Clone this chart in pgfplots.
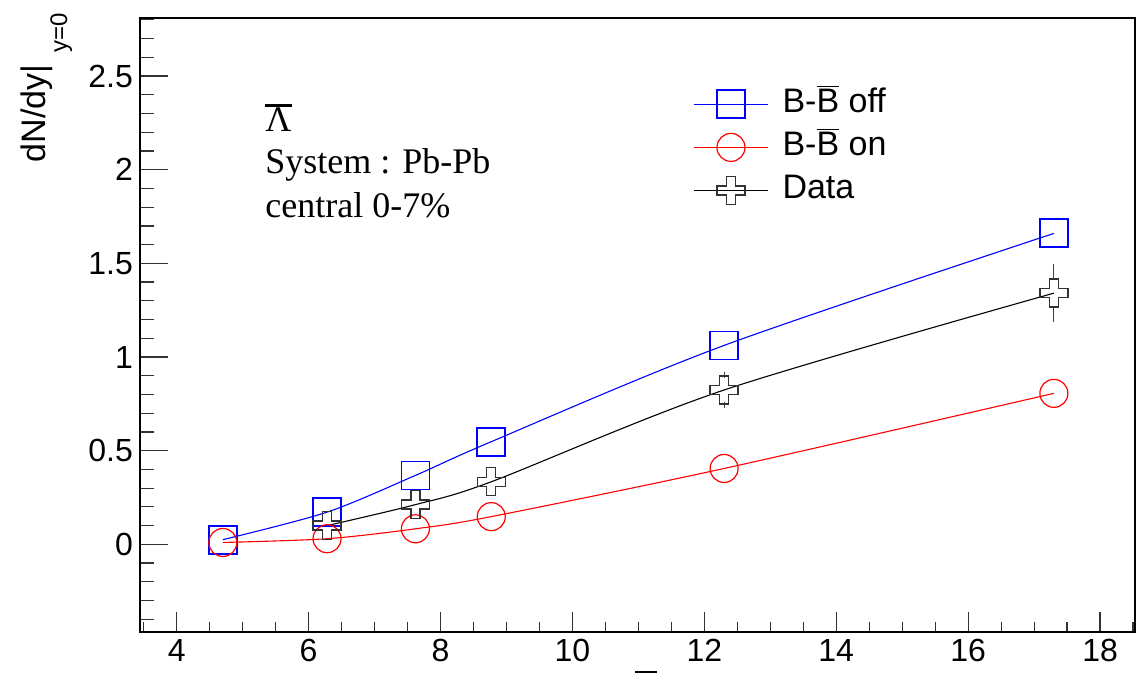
\documentclass[border=0pt]{standalone}
\usepackage{fontspec}
\setmainfont{Liberation Sans}
\newfontfamily\timesf{Liberation Serif}
\usepackage{pgfplots}
\pgfplotsset{compat=1.18}

\definecolor{rootblue}{RGB}{0,0,255}

% ROOT style open cross (marker 28)
\pgfdeclareplotmark{ocross}{%
  \pgfpathmoveto{\pgfqpoint{-0.32\pgfplotmarksize}{\pgfplotmarksize}}%
  \pgfpathlineto{\pgfqpoint{0.32\pgfplotmarksize}{\pgfplotmarksize}}%
  \pgfpathlineto{\pgfqpoint{0.32\pgfplotmarksize}{0.32\pgfplotmarksize}}%
  \pgfpathlineto{\pgfqpoint{\pgfplotmarksize}{0.32\pgfplotmarksize}}%
  \pgfpathlineto{\pgfqpoint{\pgfplotmarksize}{-0.32\pgfplotmarksize}}%
  \pgfpathlineto{\pgfqpoint{0.32\pgfplotmarksize}{-0.32\pgfplotmarksize}}%
  \pgfpathlineto{\pgfqpoint{0.32\pgfplotmarksize}{-\pgfplotmarksize}}%
  \pgfpathlineto{\pgfqpoint{-0.32\pgfplotmarksize}{-\pgfplotmarksize}}%
  \pgfpathlineto{\pgfqpoint{-0.32\pgfplotmarksize}{-0.32\pgfplotmarksize}}%
  \pgfpathlineto{\pgfqpoint{-\pgfplotmarksize}{-0.32\pgfplotmarksize}}%
  \pgfpathlineto{\pgfqpoint{-\pgfplotmarksize}{0.32\pgfplotmarksize}}%
  \pgfpathlineto{\pgfqpoint{-0.32\pgfplotmarksize}{0.32\pgfplotmarksize}}%
  \pgfpathclose
  \pgfusepathqstroke}

% bar over a letter, thicker than \overline
\newcommand\barred[2][1.3pt]{{\setbox0\hbox{#2}%
  \rlap{\rule[\dimexpr\ht0+0.7pt\relax]{\wd0}{#1}}\box0}}

\pgfplotsset{
  rootaxis/.style={
    scale only axis, width=497.5pt, height=307pt,
    at={(70pt,21pt)}, anchor=south west,
    xmin=3.444, xmax=18.53, ymin=-0.468, ymax=2.81,
    axis line style={line width=0.7pt, black},
    tick align=inside, tick pos=left,
    tick style={line width=0.6pt, black!80},
    ticklabel style={font=\fontsize{16}{18}\selectfont},
    /pgf/number format/assume math mode=true,
  },
  errbar/.style={forget plot, draw=none, no markers,
    error bars/.cd, y explicit, y dir=#1,
    error bar style={draw=black!75, line width=0.5pt},
    error mark options={draw=black!75, mark size=1.4pt, line width=0.5pt}},
}

\begin{document}
\begin{tikzpicture}
% x ticks (shorter, as ROOT scales them with pad height)
\begin{axis}[rootaxis,
  xtick={4,6,...,18}, minor xtick={3.5,4,...,18.5},
  ytick=\empty,
  major tick length=10pt, minor tick length=5pt,
]
\end{axis}

\begin{axis}[rootaxis,
  xtick=\empty,
  ytick={0,0.5,1,1.5,2,2.5}, minor ytick={-0.4,-0.3,...,2.8},
  major tick length=14pt, minor tick length=7pt,
  legend style={at={(0.5558,0.886)}, anchor=north west, draw=none, fill=none,
    font=\fontsize{17}{19}\selectfont, inner sep=0pt, row sep=5.5pt,
    nodes={inner sep=0pt, text height=12pt, text depth=4pt},
    /tikz/every odd column/.append style={column sep=7pt}},
  legend cell align=left,
  legend image code/.code={\draw[mark repeat=2,mark phase=2,#1]
    plot coordinates {(0pt,0pt)(18.5pt,0pt)(37pt,0pt)};},
]
\addplot[rootblue, line width=0.55pt, smooth, mark=square, mark size=7pt,
  mark options={solid, draw=rootblue, line width=0.9pt}] coordinates {
  (4.70,0.025) (6.28,0.172) (7.62,0.368) (8.77,0.548) (12.30,1.062) (17.30,1.660)
};
\addlegendentry{B-$\overline{\mbox{B}}$ off}

\addplot[red, line width=0.55pt, smooth, mark=o, mark size=7pt,
  mark options={solid, draw=red, line width=0.6pt}] coordinates {
  (4.70,0.010) (6.28,0.030) (7.62,0.083) (8.77,0.148) (12.30,0.405) (17.30,0.806)
};
\addlegendentry{B-$\overline{\mbox{B}}$ on}

\addplot[black, line width=0.55pt, smooth, mark=ocross, mark size=7pt,
  mark options={solid, draw=black!80, line width=0.65pt}] coordinates {
  (6.28,0.100) (7.62,0.212) (8.77,0.334) (12.30,0.824) (17.30,1.341)
};
\addlegendentry{Data}

% error bars, drawn outside the cross markers as ROOT does
% upper parts: from the marker top edge upwards
\addplot[errbar=plus] table[x=x, y=y, y error=e] {
  x     y     e
  17.30 1.419 0.062
  12.30 0.899 0.005
};
% lower parts: from the marker bottom edge downwards
\addplot[errbar=minus] table[x=x, y=y, y error=e] {
  x     y     e
  17.30 1.264 0.060
  12.30 0.749 0.005
};
\end{axis}

% y title
\node[rotate=90, anchor=base east, inner sep=0pt,
  font=\fontsize{17}{20}\selectfont] at (22.5pt,330.5pt)
  {dN/dy|\hspace{6pt}\raisebox{-11pt}{\fontsize{12}{14}\selectfont y=0}};

% annotation text
\node[anchor=base west, inner sep=0pt, font=\timesf\fontsize{18}{21}\selectfont]
  at (132.5pt,271pt) {\barred{Λ}};
\node[anchor=base west, inner sep=0pt, font=\timesf\fontsize{18}{21}\selectfont]
  at (132.5pt,250pt) {System : Pb-Pb};
\node[anchor=base west, inner sep=0pt, font=\timesf\fontsize{18}{21}\selectfont]
  at (132.5pt,228pt) {central 0-7\%};

% remnant of the clipped x title
\draw[line width=0.6pt] (317.5pt,1pt) -- (328.5pt,1pt);

\pgfresetboundingbox
\path[use as bounding box] (0,0) rectangle (569.5pt,337pt);
\end{tikzpicture}
\end{document}
